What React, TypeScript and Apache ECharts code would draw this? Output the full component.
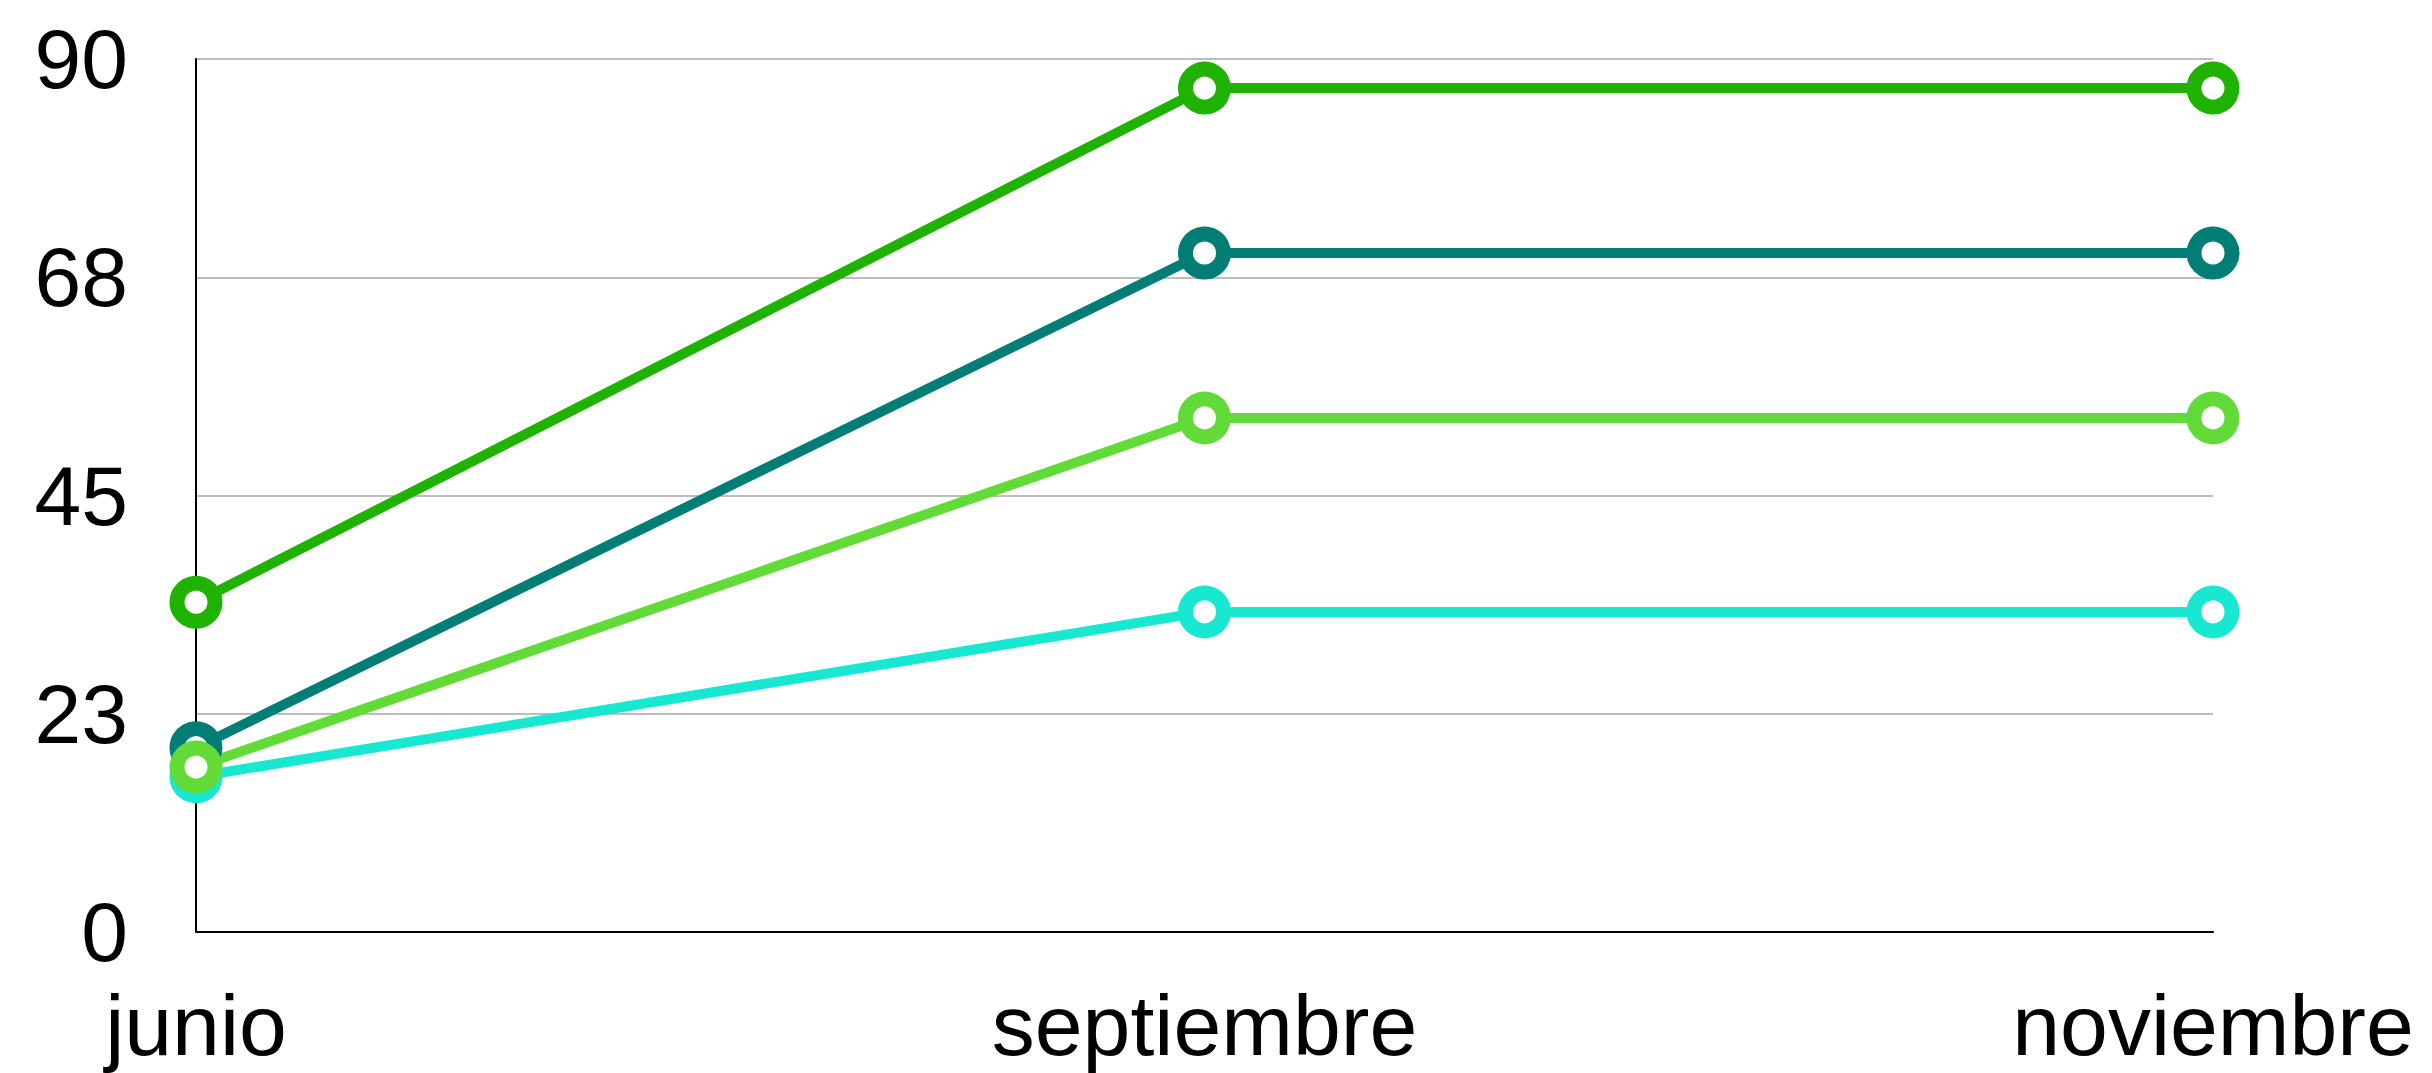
import React, { useEffect, useRef } from "react";
import * as echarts from "echarts";

const categories = ["junio", "septiembre", "noviembre"];
const seriesNames = ["A", "B", "C", "D"];
const darkGreen = [34, 87, 87];
const teal = [19, 70, 70];
const cyan = [16, 33, 33];
const lightGreen = [17, 53, 53];
const colors = ["#1fb200", "#007e75", "#18e8d2", "#62da38"];
const yMax = 90;
const yInterval = 22.5;

export default function App() {
  const ref = useRef<HTMLDivElement>(null);
  useEffect(() => {
    if (!ref.current) return;
    const chart = echarts.init(ref.current, null, { renderer: "svg" });
    const datasets = [darkGreen, teal, cyan, lightGreen];
    chart.setOption({
      animation: false,
      grid: { left: 196, right: 219, top: 59, bottom: 141, containLabel: false },
      xAxis: {
        type: "category",
        data: categories,
        boundaryGap: false,
        axisLine: { show: true, lineStyle: { color: "#000", width: 2 } },
        axisTick: { show: false },
        axisLabel: {
          color: "#000",
          fontSize: 86,
          fontFamily: "Liberation Sans, Arial, sans-serif",
          margin: 50,
          interval: 0,
        },
        splitLine: { show: false },
      },
      yAxis: {
        type: "value",
        min: 0,
        max: yMax,
        interval: yInterval,
        axisLine: { show: true, lineStyle: { color: "#000", width: 2 } },
        axisTick: { show: false },
        axisLabel: {
          color: "#000",
          fontSize: 84,
          fontFamily: "Liberation Sans, Arial, sans-serif",
          margin: 68,
          formatter: (v: number) => String(Math.round(v)),
        },
        splitLine: { show: true, lineStyle: { color: "#bdbdbd", width: 2 } },
      },
      series: datasets.map((d, i) => ({
        name: seriesNames[i],
        type: "line",
        data: d,
        symbol: "circle",
        symbolSize: 38,
        showAllSymbol: true,
        lineStyle: { color: colors[i], width: 10 },
        itemStyle: { color: "#fff", borderColor: colors[i], borderWidth: 15 },
        emphasis: { disabled: true },
      })),
    });
    return () => chart.dispose();
  }, []);
  return (
    <div
      ref={ref}
      style={{ position: "fixed", left: 0, top: 0, width: 2432, height: 1073, background: "#fff" }}
    />
  );
}
